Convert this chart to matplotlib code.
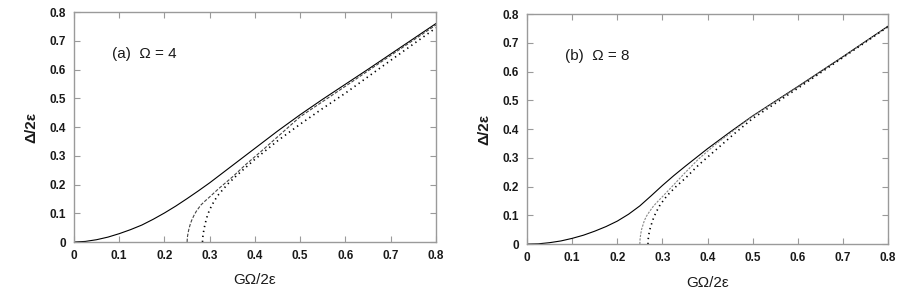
import matplotlib
matplotlib.use("Agg")
import matplotlib.pyplot as plt

plt.rcParams['font.family'] = ['Liberation Sans', 'DejaVu Sans']

# Panel (a) Omega = 4
a_solid_x = [0, 0.025, 0.05, 0.075, 0.1, 0.125, 0.15, 0.175, 0.2, 0.225, 0.25, 0.275, 0.3,
             0.325, 0.35, 0.375, 0.4, 0.45, 0.5, 0.55, 0.6, 0.65, 0.7, 0.75, 0.8]
a_solid_y = [0, 0.002, 0.008, 0.017, 0.029, 0.043, 0.059, 0.079, 0.101, 0.125, 0.151, 0.178, 0.206,
             0.236, 0.266, 0.296, 0.326, 0.386, 0.443, 0.497, 0.549, 0.601, 0.654, 0.707, 0.76]
a_dash_x = [0.25, 0.2505, 0.252, 0.254, 0.257, 0.26, 0.265, 0.27, 0.28, 0.29, 0.3, 0.32, 0.35,
            0.38, 0.42, 0.46, 0.5, 0.55, 0.6, 0.7, 0.8]
a_dash_y = [0, 0.015, 0.03, 0.045, 0.062, 0.075, 0.092, 0.106, 0.128, 0.143, 0.157, 0.186, 0.226,
            0.27, 0.324, 0.38, 0.436, 0.489, 0.542, 0.649, 0.755]
a_dot_x = [0.284, 0.2845, 0.286, 0.288, 0.291, 0.295, 0.3, 0.31, 0.32, 0.34, 0.36, 0.38, 0.4,
           0.45, 0.5, 0.55, 0.6, 0.7, 0.8]
a_dot_y = [0, 0.015, 0.032, 0.05, 0.07, 0.093, 0.113, 0.143, 0.166, 0.202, 0.232, 0.26, 0.288,
           0.352, 0.41, 0.465, 0.518, 0.632, 0.745]

# Panel (b) Omega = 8
b_solid_x = [0, 0.025, 0.05, 0.075, 0.1, 0.125, 0.15, 0.175, 0.2, 0.225, 0.25, 0.275, 0.3,
             0.325, 0.35, 0.375, 0.4, 0.45, 0.5, 0.55, 0.6, 0.65, 0.7, 0.75, 0.8]
b_solid_y = [0, 0.001, 0.005, 0.011, 0.02, 0.031, 0.045, 0.061, 0.08, 0.104, 0.133, 0.168, 0.204,
             0.238, 0.27, 0.301, 0.332, 0.39, 0.446, 0.497, 0.548, 0.6, 0.652, 0.705, 0.758]
b_dash_x = [0.25, 0.2505, 0.252, 0.254, 0.257, 0.26, 0.265, 0.27, 0.28, 0.29, 0.3, 0.32, 0.35,
            0.38, 0.42, 0.5, 0.6, 0.7, 0.8]
b_dash_y = [0, 0.018, 0.036, 0.052, 0.067, 0.082, 0.098, 0.11, 0.132, 0.149, 0.165, 0.198, 0.248,
            0.296, 0.35, 0.445, 0.546, 0.651, 0.757]
b_dot_x = [0.268, 0.2685, 0.27, 0.272, 0.275, 0.279, 0.285, 0.295, 0.31, 0.33, 0.35, 0.38, 0.42,
           0.46, 0.5, 0.6, 0.7, 0.8]
b_dot_y = [0, 0.017, 0.034, 0.05, 0.066, 0.085, 0.108, 0.137, 0.168, 0.2, 0.228, 0.275, 0.33,
           0.385, 0.437, 0.542, 0.649, 0.756]

ticks = [0, 0.1, 0.2, 0.3, 0.4, 0.5, 0.6, 0.7, 0.8]
tick_labels = ['0', '0.1', '0.2', '0.3', '0.4', '0.5', '0.6', '0.7', '0.8']
panel_labels = ['(a)  Ω = 4', '(b)  Ω = 8']
xlabel = 'GΩ/2ε'
ylabel = 'Δ/2ε'

fig = plt.figure(figsize=(9, 3.01), dpi=100)
axA = fig.add_axes([0.0822, 0.196, 0.4022, 0.764])
axB = fig.add_axes([0.5856, 0.189, 0.4011, 0.764])

frame = '#9a9a9a'
txt = '#1a1a1a'
for ax, sx, sy, dx, dy, px, py, lab, dcol, dpat in [
        (axA, a_solid_x, a_solid_y, a_dash_x, a_dash_y, a_dot_x, a_dot_y, panel_labels[0], '#444444', (3, 1.5)),
        (axB, b_solid_x, b_solid_y, b_dash_x, b_dash_y, b_dot_x, b_dot_y, panel_labels[1], '#888888', (2, 1.2))]:
    ax.plot(sx, sy, color='black', lw=0.8)
    ax.plot(dx, dy, color=dcol, lw=0.8, dashes=dpat)
    ax.plot(px, py, color='black', lw=1.2, linestyle=(0, (0.8, 2.2)))
    ax.set_xlim(0, 0.8)
    ax.set_ylim(0, 0.8)
    ax.set_xticks(ticks)
    ax.set_xticklabels(tick_labels, fontweight='bold')
    ax.set_yticks(ticks)
    ax.set_yticklabels(tick_labels, fontweight='bold')
    ax.tick_params(direction='in', length=4, width=0.8, color=frame, top=True, right=True,
                   labelsize=8.5, labelcolor=txt, pad=6)
    for s in ax.spines.values():
        s.set_color(frame)
        s.set_linewidth(1.0)
    ax.set_xlabel(xlabel, fontsize=11, color=txt, labelpad=8)
    ax.set_ylabel(ylabel, fontsize=11, color=txt, labelpad=8, fontweight='bold')
    ax.text(0.085, 0.655, lab, fontsize=11, color=txt, va='center', ha='left')

fig.savefig('out.png', dpi=100)
